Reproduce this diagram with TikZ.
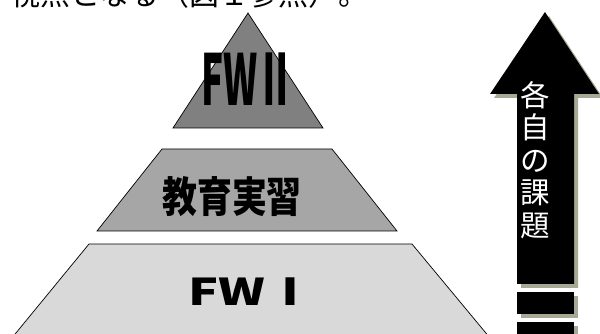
\documentclass[tikz,border=0pt]{standalone}
\usepackage{fontspec}
\usepackage{tikz}
\newfontfamily\jpfont{Noto Sans CJK JP}
\definecolor{topgray}{HTML}{808080}
\definecolor{midgray}{HTML}{A6A6A6}
\definecolor{lowgray}{HTML}{D9D9D9}
\definecolor{shadowgreen}{HTML}{A4AA94}

\begin{document}
\begin{tikzpicture}[x=0.025cm,y=-0.025cm,
  level/.style={draw=black,line width=0.5pt},
  levellabel/.style={text=black,anchor=base,inner sep=0pt},
  arrowshadow/.style={fill=shadowgreen},
  arrowbody/.style={fill=black}]

\useasboundingbox (0,0) rectangle (600,334);
\clip (0,0) rectangle (600,334);

% cut-off body text above the figure:
\path (10,6) node[text=black,anchor=base west,inner sep=0pt,font=\jpfont\fontsize{21.3}{21.3}\selectfont] (bodytext) {視点となる（図１参照）。};

% pyramid levels:
\filldraw[level,fill=topgray] (248,13) -- (323,128) -- (173,128) -- cycle;
\filldraw[level,fill=midgray] (162,149) -- (332,149) -- (397,231) -- (97,231) -- cycle;
\filldraw[level,fill=lowgray] (89,244) -- (412,244) -- (500,350) -- (2,350) -- cycle;
\path (248,106) node[levellabel,font=\jpfont\bfseries\fontsize{50}{50}\selectfont] (fwtwo) {\scalebox{0.52}[1]{FWⅡ}};
\path (232,213) node[levellabel,font=\jpfont\bfseries\fontsize{29.9}{29.9}\selectfont] (practice) {\scalebox{0.83}[1]{教育実習}};
\path (252,306) node[levellabel,font=\jpfont\bfseries\fontsize{26.3}{26.3}\selectfont] (fwone) {\scalebox{1.35}[1]{FWⅠ}};

% arrow with its shadow:
\fill[arrowshadow] (549,16) -- (603,98) -- (578,98) -- (578,288) -- (521,288) -- (521,98) -- (494,98) -- cycle;
\fill[arrowshadow] (521,296) rectangle (578,318);
\fill[arrowshadow] (521,326) rectangle (578,350);
\fill[arrowbody] (545,12) -- (599,94) -- (574,94) -- (574,284) -- (517,284) -- (517,94) -- (490,94) -- cycle;
\fill[arrowbody] (517,292) rectangle (574,314);
\fill[arrowbody] (517,322) rectangle (574,346);
\path (535,160) node[text=white,align=center,inner sep=0pt,font=\jpfont\fontsize{21}{23.1}\selectfont] (tasks) {各\\自\\の\\課\\題};

\end{tikzpicture}
\end{document}
